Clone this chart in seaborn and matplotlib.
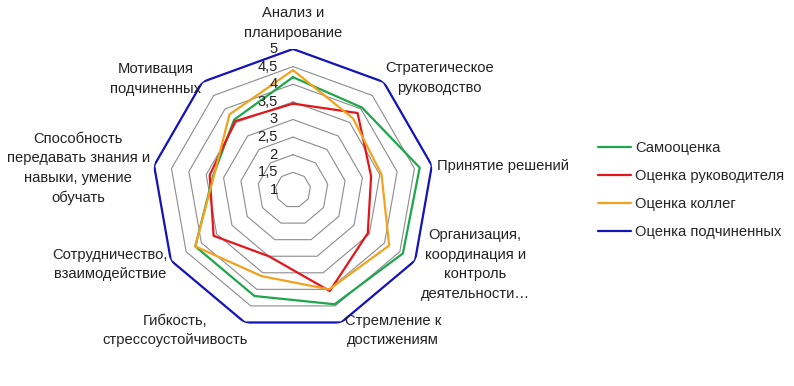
import numpy as np
import pandas as pd
import seaborn as sns
import matplotlib.pyplot as plt

categories = ["Анализ и\nпланирование", "Стратегическое\nруководство", "Принятие решений",
              "Организация,\nкоординация и\nконтроль\nдеятельности…", "Стремление к\nдостижениям",
              "Гибкость,\nстрессоустойчивость", "Сотрудничество,\nвзаимодействие",
              "Способность\nпередавать знания и\nнавыки, умение\nобучать", "Мотивация\nподчиненных"]
series = ["Самооценка", "Оценка руководителя", "Оценка коллег", "Оценка подчиненных"]
self_score = [4.2, 4.05, 4.65, 4.6, 4.45, 4.2, 4.2, 3.3, 3.6]
manager_score = [3.45, 3.85, 3.25, 3.45, 4.05, 3.0, 3.6, 3.4, 3.55]
colleague_score = [4.4, 3.65, 3.55, 4.15, 4.0, 3.6, 4.2, 3.28, 3.8]
subordinate_score = [5, 5, 5, 5, 5, 5, 5, 5, 5]
levels = [1.5, 2, 2.5, 3, 3.5, 4, 4.5, 5]
tick_labels = ["1", "1,5", "2", "2,5", "3", "3,5", "4", "4,5", "5"]
colors = ["#1FA64B", "#E3171B", "#F2A21D", "#1414B8"]

sns.set_theme(style="white")
plt.rcParams['font.family'] = ['Liberation Sans', 'DejaVu Sans']

n = len(categories)
theta = np.linspace(0, 2 * np.pi, n, endpoint=False)
theta_closed = np.append(theta, theta[0])

rows = []
for name, vals in zip(series, [self_score, manager_score, colleague_score, subordinate_score]):
    vals = list(vals) + [vals[0]]
    for t, v in zip(theta_closed, vals):
        rows.append({"series": name, "theta": t, "value": v})
df = pd.DataFrame(rows)

fig = plt.figure(figsize=(7.94, 3.86), dpi=100)
ax = fig.add_axes([0.1914, 0.1425, 0.3552, 0.7306], projection='polar')
ax.set_theta_zero_location('N')
ax.set_theta_direction(-1)

# polygon grid
for lv in levels:
    ax.plot(theta_closed, [lv] * (n + 1), color="#8C8C8C", lw=0.8, zorder=1)

sns.lineplot(data=df, x="theta", y="value", hue="series", palette=colors, sort=False,
             estimator=None, ax=ax, lw=1.6, zorder=3)
ax.get_lines()[-1].set_linewidth(1.9)

ax.set_ylim(1, 5)
ax.grid(False)
ax.spines['polar'].set_visible(False)
ax.set_xticks([])
ax.set_yticks([])
ax.set_xlabel("")
ax.set_ylabel("")

fs = 10.6
for lv, lab in zip([1] + levels, tick_labels):
    ax.annotate(lab, xy=(0, lv), xytext=(-15, 0), textcoords='offset pixels',
                ha='right', va='center', fontsize=fs, color="#222222")

offsets = [(0, 26), (56, 4), (5, 0), (60, -4), (52, -8), (-70, -8), (-61, -4), (-76, -3), (-47, 3)]
for t, lab, (dx, dy) in zip(theta, categories, offsets):
    ha = 'left' if lab == "Принятие решений" else 'center'
    ax.annotate(lab, xy=(t, 5), xytext=(dx, dy), textcoords='offset pixels',
                ha=ha, va='center', multialignment='center', fontsize=fs,
                linespacing=1.5, color="#222222", annotation_clip=False)

handles, labels = ax.get_legend_handles_labels()
ax.legend(handles, labels, loc='center left', bbox_to_anchor=(0.737, 0.508),
          bbox_transform=fig.transFigure, frameon=False, fontsize=fs,
          handlelength=2.2, handletextpad=0.3, labelspacing=0.95)
for h in ax.get_legend().get_lines():
    h.set_linewidth(1.6)

fig.savefig("out.png", dpi=100)
